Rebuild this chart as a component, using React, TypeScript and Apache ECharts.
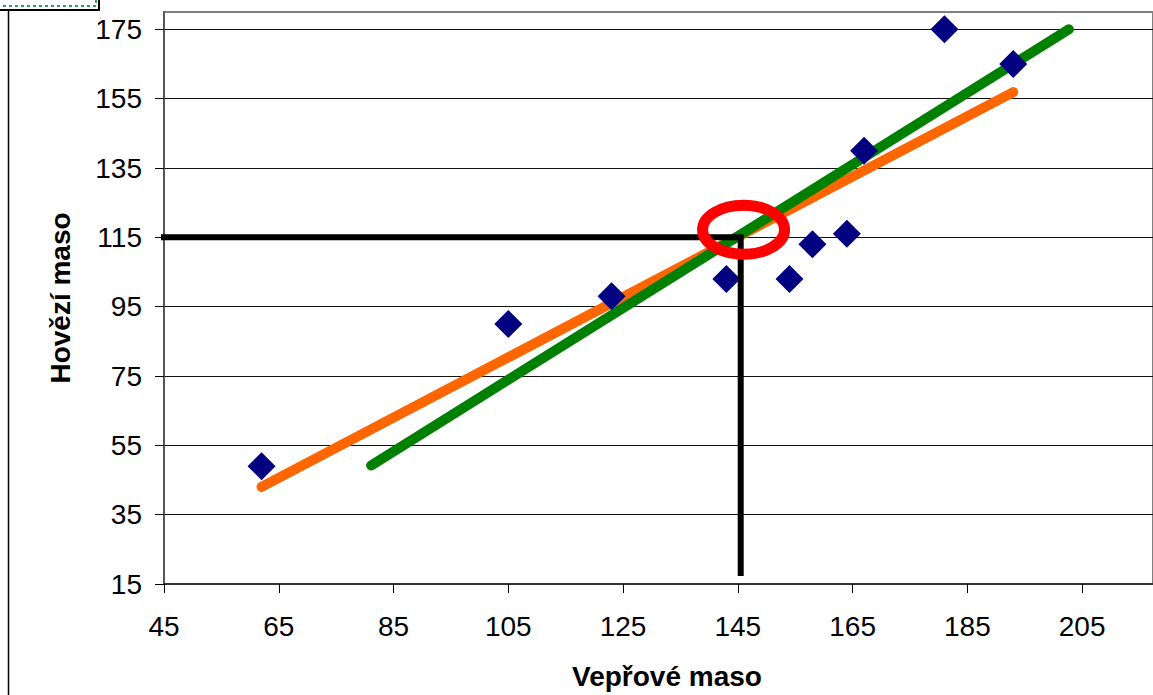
import React, { useEffect, useRef } from "react";
import * as echarts from "echarts";

// Scatter points: [Vepřové maso, Hovězí maso]
const points: number[][] = [
  [62, 49],
  [105, 90],
  [123, 98],
  [143, 103],
  [154, 103],
  [158, 113],
  [164, 116],
  [167, 140],
  [181, 175],
  [193, 165],
];

// Trend lines (end points)
const orangeLine: number[][] = [
  [62, 43],
  [193, 156.9],
];
const greenLine: number[][] = [
  [81.1, 49.2],
  [202.7, 175],
];

// Annotation: reading 115 -> 145
const guideLine: number[][] = [
  [43.1, 115],
  [145.5, 115],
  [145.5, 17.3],
];
const circleCenter: number[][] = [[146, 117.2]];

const xTicks = [45, 65, 85, 105, 125, 145, 165, 185, 205];
const yTicks = [15, 35, 55, 75, 95, 115, 135, 155, 175];

const xTitle = "Vepřové maso";
const yTitle = "Hovězí maso";

const FONT = "'Liberation Sans', Arial, sans-serif";

export default function App() {
  const ref = useRef<HTMLDivElement>(null);

  useEffect(() => {
    if (!ref.current) return;
    const chart = echarts.init(ref.current, undefined, { renderer: "svg" });
    chart.setOption({
      animation: false,
      backgroundColor: "#ffffff",
      textStyle: { fontFamily: FONT },
      grid: {
        left: 164,
        top: 12,
        right: -2,
        bottom: 110,
        show: true,
        borderColor: "#808080",
        borderWidth: 2,
        backgroundColor: "transparent",
      },
      xAxis: {
        type: "value",
        min: 45,
        max: 217.35,
        name: xTitle,
        nameLocation: "middle",
        nameGap: 78,
        nameTextStyle: {
          fontFamily: FONT,
          fontSize: 28,
          fontWeight: "bold",
          color: "#000",
          padding: [0, 0, 0, 17],
        },
        axisLine: { show: true, lineStyle: { color: "#333", width: 2 } },
        axisTick: {
          show: true,
          inside: false,
          length: 9,
          lineStyle: { color: "#000", width: 1 },
          customValues: xTicks,
        },
        axisLabel: {
          customValues: xTicks,
          fontFamily: FONT,
          fontSize: 28,
          color: "#000",
          margin: 28,
        },
        splitLine: { show: false },
      },
      yAxis: {
        type: "value",
        min: 15,
        max: 180,
        name: yTitle,
        nameLocation: "middle",
        nameGap: 90,
        nameTextStyle: {
          fontFamily: FONT,
          fontSize: 28,
          fontWeight: "bold",
          color: "#000",
        },
        axisLine: { show: true, lineStyle: { color: "#555", width: 2 } },
        axisTick: {
          show: true,
          inside: false,
          length: 9,
          lineStyle: { color: "#000", width: 1 },
          customValues: yTicks,
        },
        axisLabel: {
          customValues: yTicks,
          fontFamily: FONT,
          fontSize: 28,
          color: "#000",
          margin: 22,
        },
        splitLine: { show: true, lineStyle: { color: "#111", width: 1 } },
      },
      graphic: [
        {
          type: "line",
          shape: { x1: 8.5, y1: 10, x2: 8.5, y2: 700 },
          style: { stroke: "#000", lineWidth: 1.5 },
          z: 100,
        },
        {
          type: "rect",
          shape: { x: -3, y: -3, width: 102, height: 13 },
          style: { fill: "#fff", stroke: "#000", lineWidth: 2 },
          z: 100,
        },
        {
          type: "rect",
          shape: { x: -3, y: -3, width: 99, height: 9 },
          style: { fill: "none", stroke: "#2e9e5e", lineWidth: 2, lineDash: [3, 3] },
          z: 101,
        },
      ],
      series: [
        {
          name: "orange",
          type: "line",
          data: orangeLine,
          showSymbol: false,
          symbol: "none",
          lineStyle: { color: "#FF6600", width: 10, cap: "round" },
          z: 2,
        },
        {
          name: "green",
          type: "line",
          data: greenLine,
          showSymbol: false,
          symbol: "none",
          lineStyle: { color: "#008000", width: 10, cap: "round" },
          z: 3,
        },
        {
          name: "data",
          type: "scatter",
          data: points,
          symbol: "diamond",
          symbolSize: 28,
          itemStyle: { color: "#000080", opacity: 1 },
          z: 4,
        },
        {
          name: "guide",
          type: "line",
          data: guideLine,
          showSymbol: false,
          symbol: "none",
          clip: false,
          lineStyle: { color: "#000", width: 6, cap: "butt", join: "miter" },
          z: 5,
        },
        {
          name: "circle",
          type: "custom",
          data: circleCenter,
          clip: false,
          z: 6,
          renderItem: (params: any, api: any) => {
            const p = api.coord([api.value(0), api.value(1)]);
            return {
              type: "ellipse",
              shape: { cx: p[0], cy: p[1], rx: 41, ry: 24.5 },
              style: { fill: "none", stroke: "#FF0000", lineWidth: 11 },
            };
          },
        },
      ],
    });
    return () => chart.dispose();
  }, []);

  return (
    <div
      ref={ref}
      style={{ position: "absolute", left: 0, top: 0, width: 1153, height: 695 }}
    />
  );
}
